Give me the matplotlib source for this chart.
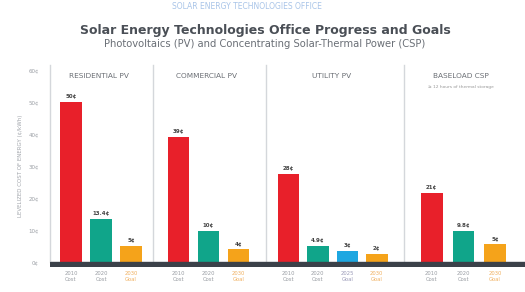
import numpy as np
import matplotlib
matplotlib.use("Agg")
import matplotlib.pyplot as plt

# ---- data (cents per kWh) ---------------------------------------------------
panels = ["RESIDENTIAL PV", "COMMERCIAL PV", "UTILITY PV", "BASELOAD CSP"]
residential = [50, 13.4, 5]
commercial = [39, 9.7, 4]
utility = [27.5, 5.0, 3.5, 2.5]
csp = [21.5, 9.8, 5.5]
res_labels = ["50¢", "13.4¢", "5¢"]
com_labels = ["39¢", "10¢", "4¢"]
utl_labels = ["28¢", "4.9¢", "3¢", "2¢"]
csp_labels = ["21¢", "9.8¢", "5¢"]
res_ticks = ["2010\nCost", "2020\nCost", "2030\nGoal"]
com_ticks = ["2010\nCost", "2020\nCost", "2030\nGoal"]
utl_ticks = ["2010\nCost", "2020\nCost", "2025\nGoal", "2030\nGoal"]
csp_ticks = ["2010\nCost", "2020\nCost", "2030\nGoal"]
y_ticks = [0, 10, 20, 30, 40, 50, 60]

# ---- colours ------------------------------------------------------------------
C_RED = "#e8202a"
C_GREEN = "#10a58a"
C_BLUE = "#1ea7e1"
C_ORANGE = "#f5a31a"
C_DARK = "#3b4149"

groups = [
    (residential, res_labels, res_ticks, [C_RED, C_GREEN, C_ORANGE]),
    (commercial, com_labels, com_ticks, [C_RED, C_GREEN, C_ORANGE]),
    (utility, utl_labels, utl_ticks, [C_RED, C_GREEN, C_BLUE, C_ORANGE]),
    (csp, csp_labels, csp_ticks, [C_RED, C_GREEN, C_ORANGE]),
]
starts = [0, 3.57, 7.23, 12.0]
steps = [1.0, 1.0, 0.98, 1.05]
dividers = [-0.7, 2.73, 6.47, 11.07, 15.1]

fig = plt.figure(figsize=(5.25, 2.92), dpi=100, facecolor="white")
ax = fig.add_axes([50 / 525, (292 - 267) / 292, 475 / 525, (267 - 65) / 292])
ax.set_xlim(-0.7, 15.1)
ax.set_ylim(-1.6, 61.5)
for s in ax.spines.values():
    s.set_visible(False)

all_x, all_tl, all_tc = [], [], []
for (vals, labs, ticks, cols), x0, st in zip(groups, starts, steps):
    xs = x0 + st * np.arange(len(vals))
    ax.bar(xs, vals, width=0.72, color=cols, zorder=3)
    for x, v, lab in zip(xs, vals, labs):
        ax.text(x, v + 0.8, lab, ha="center", va="bottom", fontsize=4,
                color="#444", fontweight="bold", zorder=4)
    all_x.extend(xs)
    all_tl.extend(ticks)
    all_tc.extend(cols)

ax.set_xticks(all_x)
ax.set_xticklabels(all_tl, fontsize=3.8, linespacing=1.1)
for lab, col in zip(ax.get_xticklabels(), all_tc):
    if col == C_ORANGE:
        lab.set_color("#f0b060")
    elif col == C_BLUE:
        lab.set_color("#9a9ab8")
    else:
        lab.set_color("#9a9ea4")
ax.tick_params(axis="x", length=0, pad=3)

ax.set_yticks(y_ticks)
ax.set_yticklabels([f"{t}¢" for t in y_ticks], fontsize=4, color="#9a9ea4")
ax.tick_params(axis="y", length=0, pad=8)
ax.set_ylabel("LEVELIZED COST OF ENERGY (¢/kWh)", fontsize=4, color="#a0a4aa",
              labelpad=4)

for d in dividers[:-1]:
    ax.plot([d, d], [0, 61.5], color="#d4d7db", lw=1.0, zorder=1, clip_on=False)
ax.axhspan(-1.6, 0, color=C_DARK, zorder=5)

for name, d0, d1 in zip(panels, dividers[:-1], dividers[1:]):
    ax.text((d0 + d1) / 2 - 0.1, 58.0, name, fontsize=5.3, color="#6a6e74",
            ha="center", va="center")
ax.text((dividers[3] + dividers[4]) / 2 - 0.1, 54.6, "≥ 12 hours of thermal storage",
        fontsize=3.2, color="#999", ha="center", va="center")

fig.text(0.505, 0.895, "Solar Energy Technologies Office Progress and Goals",
         ha="center", va="center", fontsize=9, fontweight="bold", color="#4a4f56")
fig.text(0.505, 0.848, "Photovoltaics (PV) and Concentrating Solar-Thermal Power (CSP)",
         ha="center", va="center", fontsize=7.2, color="#6a6f76")
fig.text(0.47, 0.978, "SOLAR ENERGY TECHNOLOGIES OFFICE",
         ha="center", va="center", fontsize=5.5, color="#a8c4e8")

fig.savefig("out.png", dpi=100, facecolor="white")
